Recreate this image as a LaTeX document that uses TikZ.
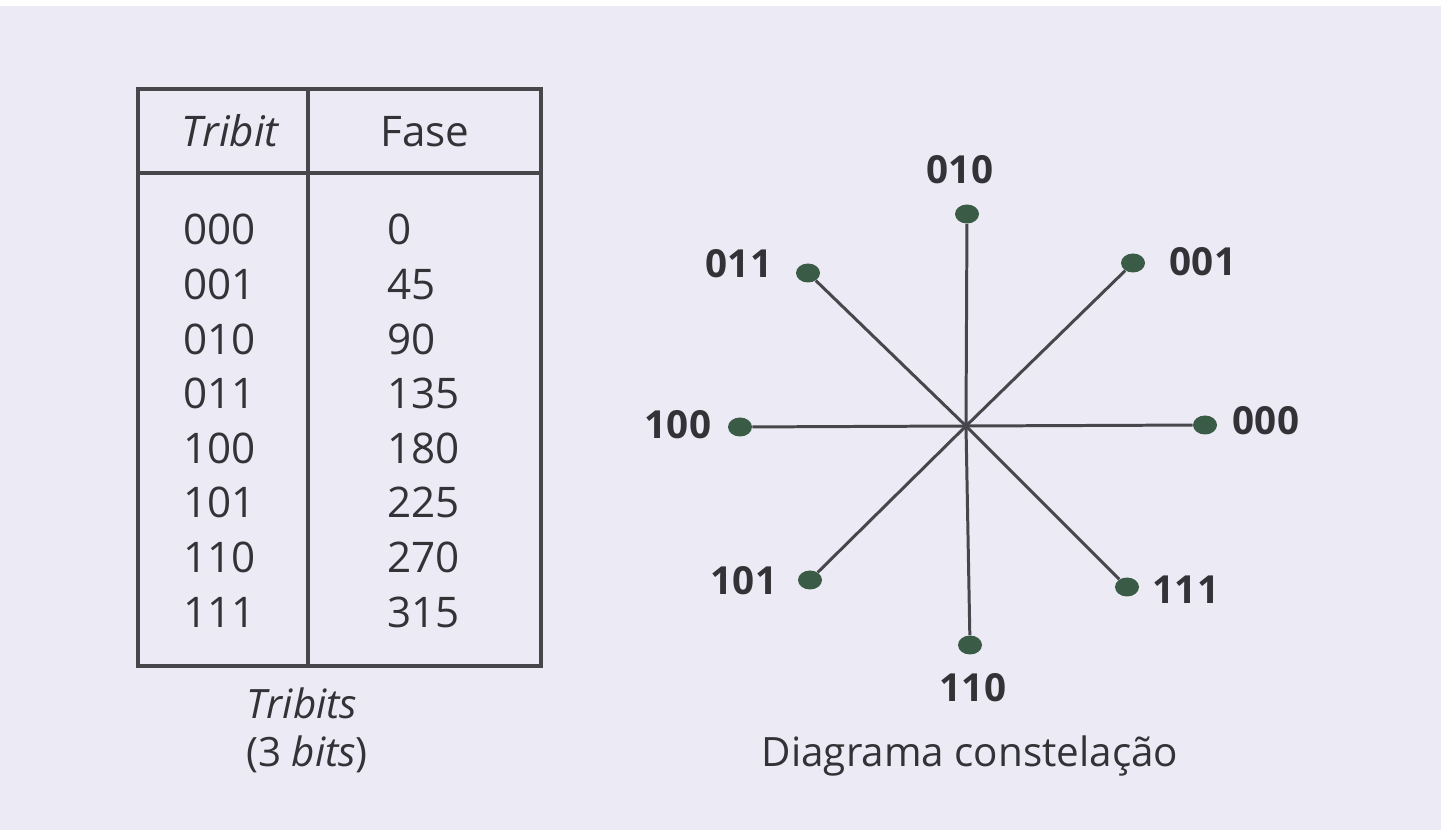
\documentclass[tikz,border=0pt]{standalone}
\usepackage{fontspec}
\setmainfont{Open Sans}
\usepackage{tikz}
\usetikzlibrary{positioning,shapes.geometric}
\definecolor{papel}{RGB}{236,235,245}
\definecolor{tinta}{RGB}{50,50,55}
\definecolor{ponto}{RGB}{58,92,70}

\begin{document}
\begin{tikzpicture}[x=0.02cm,y=-0.02cm,
  cel/.style={text=tinta, font=\fontsize{24}{28}\selectfont, inner sep=0pt},
  rotulo/.style={text=tinta, font=\fontsize{22}{26}\selectfont\bfseries, inner sep=0pt},
  legenda/.style={text=tinta, font=\fontsize{23}{28}\selectfont, inner sep=0pt, anchor=base},
  dot/.style={ellipse, fill=ponto, minimum width=0.48cm, minimum height=0.38cm, inner sep=0pt},
  eixo/.style={draw=tinta!90, line width=1.7pt},
  grade/.style={draw=tinta!90, line width=2pt}]
\fill[papel] (0,0) rectangle (1441,830);
\fill[white] (0,0) rectangle (1441,6);
\useasboundingbox (0,0) rectangle (1441,830);

% tabela
\draw[grade] (138,89) rectangle (541,666);
\draw[grade] (308,89) -- (308,666);
\draw[grade] (138,173) -- (541,173);
\node[cel, anchor=base] (hbit) at (230,147) {\itshape Tribit};
\node[cel, anchor=base] (hfase) at (425,147) {Fase};
\foreach \t/\f [count=\i from 0] in {000/0,001/45,010/90,011/135,100/180,101/225,110/270,111/315} {
  \node[cel, anchor=base west] (t\t) at (183,{245+54.6*\i}) {\t};
  \node[cel, anchor=base west] (f\t) at (387,{245+54.6*\i}) {\f};
}
\node[legenda] (cap1) at (302,719) {\itshape Tribits};
\node[legenda] (cap2) at (307,767) {(3 \textit{bits})};

% constelacao
\coordinate (o) at (966,426);
\foreach \b/\x/\y in {000/1205/425,001/1133/263,010/967/214,011/808/273,100/740/427,101/810/580,110/970/645,111/1127/587} {
  \node[dot] (d\b) at (\x,\y) {};
  \draw[eixo] (o) -- (d\b);
}
\foreach \b/\x/\y in {000/1266/421,001/1203/262,010/960/170,011/739/264,100/678/425,101/744/581,110/973/688,111/1186/590}
  \node[rotulo] (l\b) at (\x,\y) {\b};
\node[legenda] (cap3) at (970,767) {Diagrama constelação};
\end{tikzpicture}
\end{document}
